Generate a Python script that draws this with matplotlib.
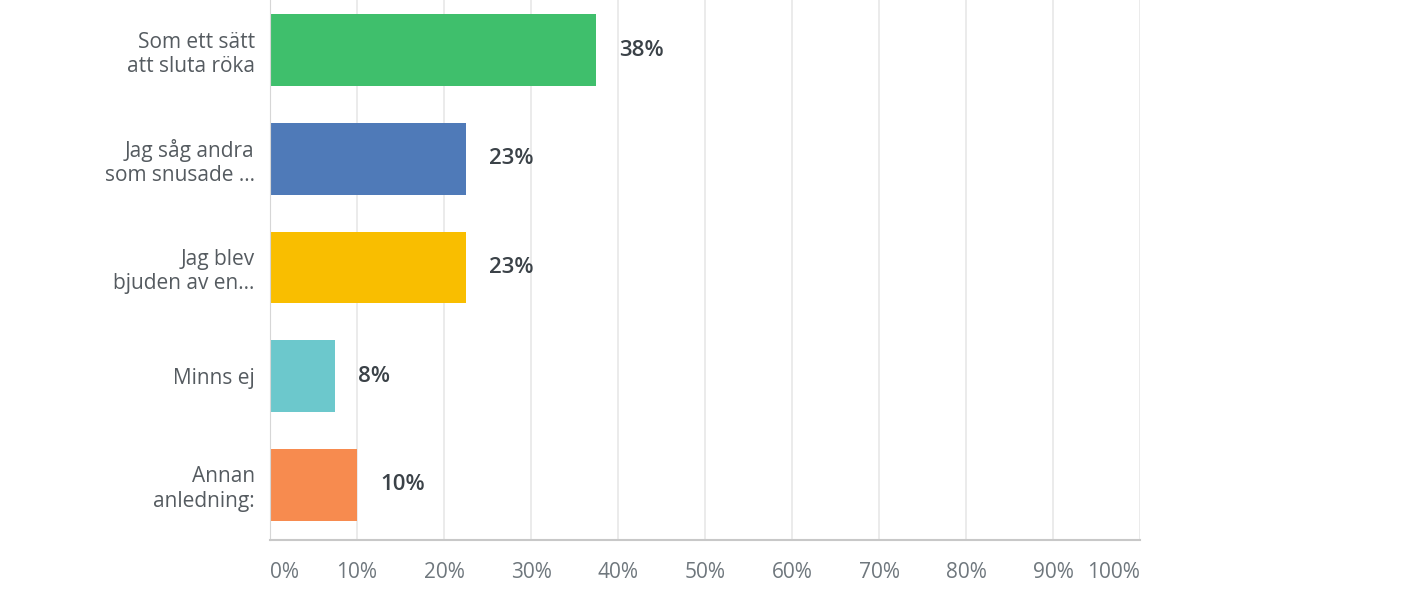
import matplotlib.pyplot as plt

answers = ["Som ett sätt\natt sluta röka", "Jag såg andra\nsom snusade ...",
           "Jag blev\nbjuden av en...", "Minns ej", "Annan\nanledning:"]
shares = [37.5, 22.5, 22.5, 7.5, 10.0]
share_labels = ["38%", "23%", "23%", "8%", "10%"]
colours = ["#3fbf6c", "#4f7ab8", "#f9be00", "#6cc8cc", "#f78b4f"]
ticks = [0, 10, 20, 30, 40, 50, 60, 70, 80, 90, 100]
tick_labels = [f"{t}%" for t in ticks]

plt.rcParams['font.family'] = ['Open Sans', 'DejaVu Sans']

fig = plt.figure(figsize=(14.2, 6), dpi=100)
ax = fig.add_axes([270 / 1420, 0.1, 870 / 1420, 0.9])

pos = list(range(len(answers)))
bars = ax.barh(pos, shares, color=colours, height=0.66)

for bar, lbl in zip(bars, share_labels):
    ax.annotate(lbl, (bar.get_width(), bar.get_y() + bar.get_height() / 2),
                xytext=(16.5, 0), textcoords='offset points', va='center', ha='left',
                fontsize=16, fontweight='semibold', color='#3b4248')

ax.set_xlim(0, 100)
ax.set_ylim(4.506, -0.46)
ax.set_yticks(pos)
ax.set_yticklabels(answers, fontsize=15, color='#555b60', linespacing=1.2)
ax.set_xticks(ticks)
ax.set_xticklabels(tick_labels, fontsize=15, color='#6f777d')
for i, t in enumerate(ax.get_xticklabels()):
    if i == 0:
        t.set_ha('left')
    elif i == len(ticks) - 1:
        t.set_ha('right')
ax.tick_params(axis='x', length=0, pad=16)
ax.tick_params(axis='y', length=0, pad=11)

ax.grid(axis='x', color='#e8e8e8', linewidth=1.2)
ax.set_axisbelow(True)
for s in ['top', 'right']:
    ax.spines[s].set_visible(False)
ax.spines['left'].set_color('#d6d6d6')
ax.spines['bottom'].set_color('#c8c8c8')
ax.spines['bottom'].set_linewidth(1.5)

fig.savefig('out.png', dpi=100, facecolor='white')
